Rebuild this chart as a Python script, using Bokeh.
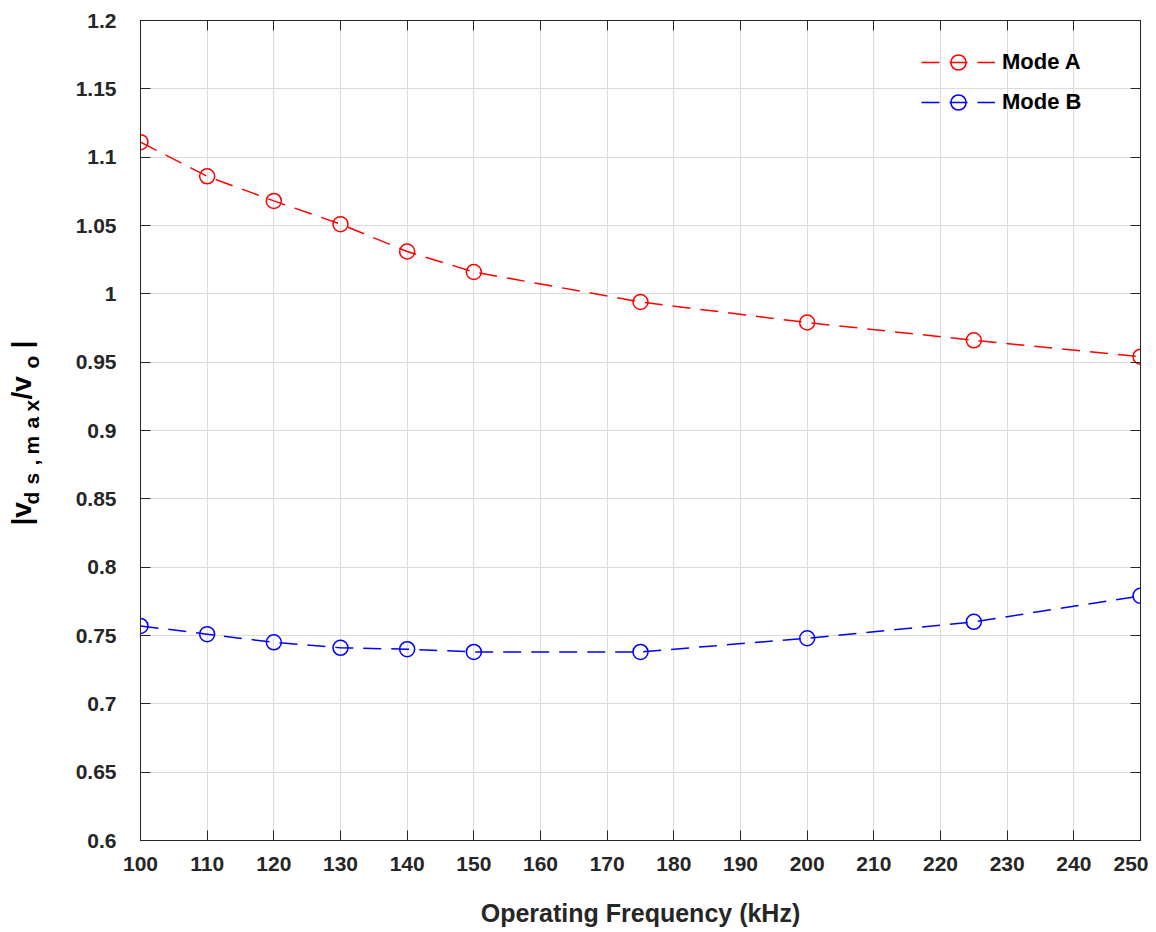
import math
from bokeh.plotting import figure
from bokeh.layouts import row
from bokeh.models import (Range1d, FixedTicker, LinearAxis, Label, Legend,
                          CustomJSTickFormatter)
from bokeh.embed import file_html
from bokeh.resources import INLINE

# ---------------- data ----------------
freq_khz = [100, 110, 120, 130, 140, 150, 175, 200, 225, 250]
mode_a = [1.111, 1.086, 1.068, 1.051, 1.031, 1.016, 0.994, 0.979, 0.966, 0.954]
mode_b = [0.757, 0.751, 0.745, 0.741, 0.740, 0.738, 0.738, 0.748, 0.760, 0.779]
series_names = ["Mode A", "Mode B"]
x_ticks = [100, 110, 120, 130, 140, 150, 160, 170, 180, 190, 200, 210, 220, 230, 240, 250]
y_ticks = [0.6, 0.65, 0.7, 0.75, 0.8, 0.85, 0.9, 0.95, 1.0, 1.05, 1.1, 1.15, 1.2]
x_label = "Operating Frequency (kHz)"
# y label |v_{ds,max}/v_o| : (text, is_subscript)
y_label_parts = [("|v", False), ("d", True), ("s", True), (",", True), ("m", True),
                 ("a", True), ("x", True), ("/v", False), ("o", True), ("|", False)]

FONT = "Liberation Sans"
AX = "#262626"
LBL_W = 60
FRAME_L, FRAME_T, FRAME_W, FRAME_H = 140, 20, 1000, 820
X0, X1, Y0, Y1 = 100, 250, 0.6, 1.2

# ---- narrow panel holding the rotated y-axis label ----
lab = figure(frame_width=LBL_W, frame_height=FRAME_H,
             x_range=Range1d(0, LBL_W), y_range=Range1d(0, FRAME_H),
             output_backend="svg", toolbar_location=None,
             min_border_left=0, min_border_right=0, min_border_top=FRAME_T,
             min_border_bottom=0, outline_line_color=None,
             background_fill_color="white", border_fill_color="white")
lab.axis.visible = False
lab.grid.visible = False

# start positions along the label (page y) and vertical-centre lines (page x)
part_start_y = [525, 504, 484, 465, 454, 428, 411, 399, 368, 348]
for (txt, sub), py in zip(y_label_parts, part_start_y):
    cx = 31 if sub else 21
    fs = 21 if sub else 28
    lab.add_layout(Label(x=cx, y=FRAME_T + FRAME_H - py, text=txt,
                         angle=math.pi / 2, text_align="left",
                         text_baseline="middle", text_font=FONT,
                         text_font_style="bold", text_font_size=f"{fs}px",
                         text_color="black"))

# ---- main plot ----
p = figure(frame_width=FRAME_W, frame_height=FRAME_H,
           x_range=Range1d(X0, X1), y_range=Range1d(Y0, Y1),
           output_backend="svg", toolbar_location=None,
           min_border_left=FRAME_L - LBL_W, min_border_right=8,
           min_border_top=FRAME_T, min_border_bottom=0,
           background_fill_color="white",
           outline_line_color=AX, outline_line_width=1)

fmt = CustomJSTickFormatter(code="""
let s = tick.toFixed(2);
s = s.replace(/0+$/, '').replace(/\\.$/, '');
return s;
""")
blank = CustomJSTickFormatter(code="return '';")

def style_axis(ax, show_labels):
    ax.axis_line_color = AX
    ax.axis_line_width = 1
    ax.major_tick_line_color = AX
    ax.major_tick_in = 10
    ax.major_tick_out = 0
    ax.minor_tick_line_color = None
    ax.major_label_text_font = FONT
    ax.major_label_text_font_style = "bold"
    ax.major_label_text_color = "#262626"
    if not show_labels:
        ax.formatter = blank
        ax.major_label_standoff = 0

xa = p.xaxis[0]
xa.ticker = FixedTicker(ticks=x_ticks)
style_axis(xa, True)
xa.major_label_text_font_size = "21px"
xa.major_label_standoff = 16
xa.axis_label = x_label
xa.axis_label_text_font = FONT
xa.axis_label_text_font_style = "bold"
xa.axis_label_text_font_size = "25px"
xa.axis_label_text_color = "#262626"
xa.axis_label_standoff = 25

ya = p.yaxis[0]
ya.ticker = FixedTicker(ticks=y_ticks)
ya.formatter = fmt
style_axis(ya, True)
ya.major_label_text_font_size = "21px"
ya.major_label_standoff = 24

top = LinearAxis(ticker=FixedTicker(ticks=x_ticks))
style_axis(top, False)
p.add_layout(top, "above")
right = LinearAxis(ticker=FixedTicker(ticks=y_ticks))
style_axis(right, False)
p.add_layout(right, "right")

p.xgrid.ticker = FixedTicker(ticks=x_ticks)
p.ygrid.ticker = FixedTicker(ticks=y_ticks)
for g in (p.xgrid[0], p.ygrid[0]):
    g.grid_line_color = "#dcdcdc"
    g.grid_line_width = 1

colors = ["#ff0000", "#0000ff"]
items = []
for name, ys, c in zip(series_names, [mode_a, mode_b], colors):
    l = p.line(freq_khz, ys, line_color=c, line_width=1.5, line_dash="18 10")
    s = p.scatter(freq_khz, ys, marker="circle", size=15, line_color=c,
                  line_width=1.5, fill_color=None)
    items.append((name, [l, s]))

leg = Legend(items=items, location=(781, 719), glyph_width=74, glyph_height=38,
             label_height=38, spacing=2, padding=0, margin=0, label_standoff=7,
             border_line_color=None, background_fill_alpha=0,
             label_text_font=FONT, label_text_font_style="bold",
             label_text_font_size="22px", label_text_color="black")
p.add_layout(leg, "center")

layout = row(lab, p, spacing=0)
open("out.html", "w").write(file_html(layout, INLINE))
